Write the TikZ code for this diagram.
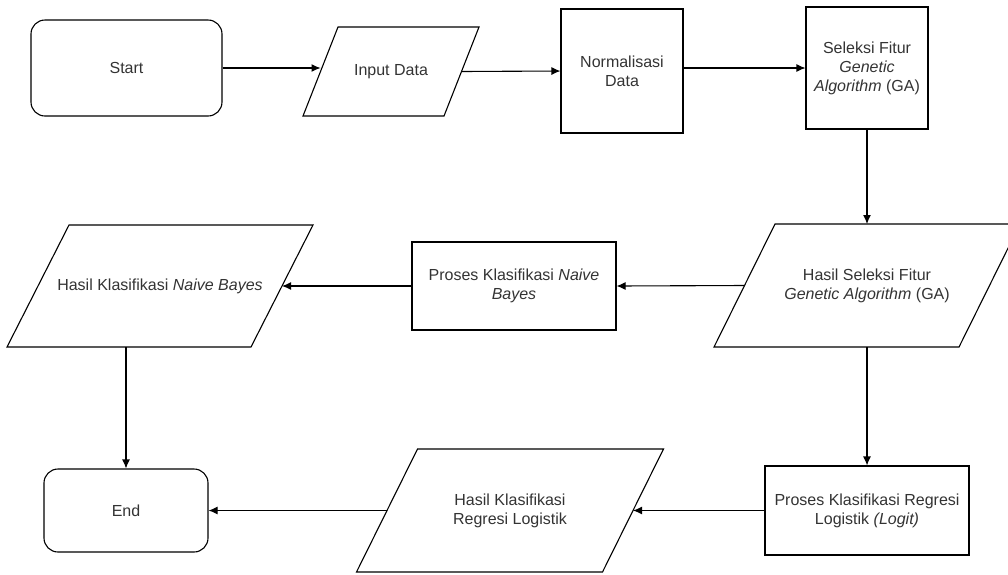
\documentclass[tikz,border=0pt]{standalone}
\usepackage{fontspec}
\setmainfont{Liberation Sans}
\usetikzlibrary{arrows.meta}

\begin{document}
\begin{tikzpicture}[x=1pt, y=-1pt, line width=1.1pt,
  font=\fontsize{16}{19}\selectfont, text=black!80,
  terminal/.style={draw, rounded corners=14pt, align=center},
  proc/.style={draw, align=center},
  io/.style={align=center, inner sep=0pt, outer sep=0pt},
  flow/.style={-{Latex[length=9pt,width=8pt]}}]
\useasboundingbox (0,0) rectangle (1008,574);

\node[terminal, minimum width=191, minimum height=96] (start) at (126.5,68) {Start};
\node[io, minimum width=141, minimum height=89] (inp) at (391,71.5) {Input Data};
\node[proc, minimum width=122, minimum height=124] (norm) at (622,71) {Normalisasi\\Data};
\node[proc, minimum width=122, minimum height=122] (sel) at (867,68) {Seleksi Fitur\\\textit{Genetic}\\\textit{Algorithm} (GA)};

\node[io, minimum width=245, minimum height=123] (hsel) at (867,285.5) {Hasil Seleksi Fitur\\\textit{Genetic Algorithm} (GA)};
\node[proc, minimum width=204, minimum height=88] (pnb) at (514,286) {Proses Klasifikasi \textit{Naive}\\\textit{Bayes}};
\node[io, minimum width=244, minimum height=122] (hnb) at (160,286) {Hasil Klasifikasi \textit{Naive Bayes}};

\node[terminal, minimum width=164, minimum height=83] (stop) at (126,510.5) {End};
\node[io, minimum width=246, minimum height=123] (hlr) at (510,510.5) {Hasil Klasifikasi\\Regresi Logistik};
\node[proc, minimum width=204, minimum height=89] (plr) at (867,510.5) {Proses Klasifikasi Regresi\\Logistik \textit{(Logit)}};

% data boxes drawn as parallelograms round their nodes
\foreach \n/\o in {inp/35, hsel/61, hnb/62, hlr/61}
  \draw ([xshift=\o/2]\n.north west) -- ([xshift=\o/2]\n.north east)
    -- ([xshift=-\o/2]\n.south east) -- ([xshift=-\o/2]\n.south west) -- cycle;

\draw[flow] (start.east) -- (start.east -| inp.west);
\draw[flow] (inp.east) -- (norm.west);
\draw[flow] (norm.east |- sel.west) -- (sel.west);
\draw[flow] (sel.south) -- (hsel.north);
\draw[flow] (hsel.west) -- (pnb.east);
\draw[flow] (pnb.west) -- (hnb.east);
\draw[flow] (stop.north |- hnb.south) -- (stop.north);
\draw[flow] (hsel.south) -- (plr.north);
\draw[flow] (plr.west) -- (hlr.east);
\draw[flow] (hlr.west) -- (stop.east);
\end{tikzpicture}
\end{document}
